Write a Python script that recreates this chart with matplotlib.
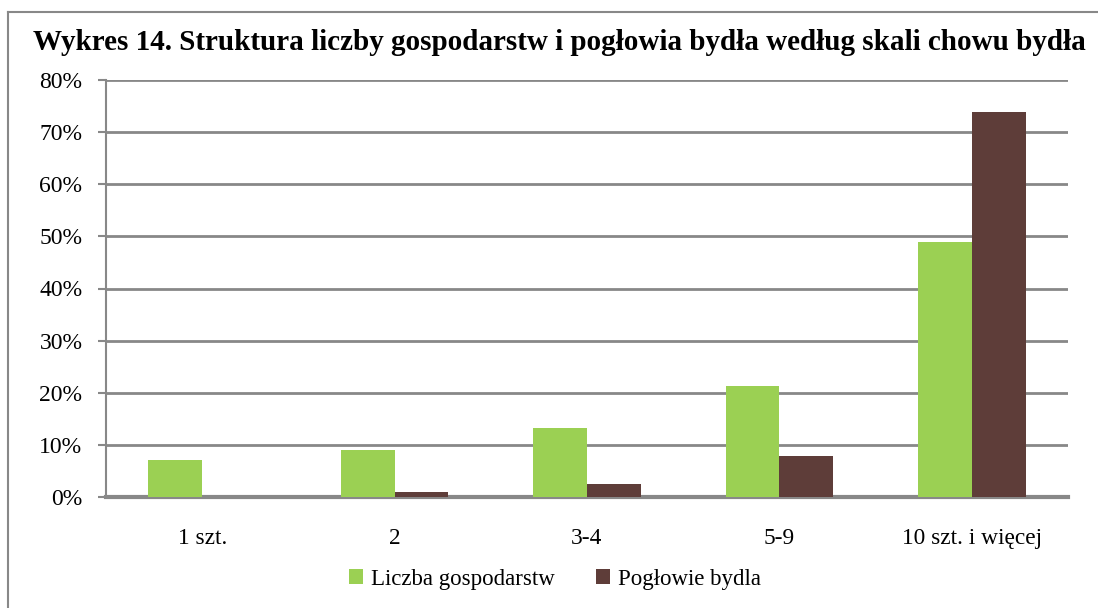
import matplotlib.pyplot as plt
from matplotlib.lines import Line2D
from matplotlib.ticker import PercentFormatter
import numpy as np

categories = ['1 szt.', '2', '3-4', '5-9', '10 szt. i więcej']
gospodarstwa = [7.1, 9.0, 13.2, 21.3, 48.9]
poglowie = [0.0, 0.9, 2.5, 7.9, 73.9]
series_names = ['Liczba gospodarstw', 'Pogłowie bydla']
title = 'Wykres 14. Struktura liczby gospodarstw i pogłowia bydła według skali chowu bydła'

green = '#9BD053'
brown = '#5E3D39'
grid_col = '#888888'

plt.rcParams['font.family'] = ['Liberation Serif', 'DejaVu Serif']

fig = plt.figure(figsize=(10.98, 6.08), dpi=100)
ax = fig.add_axes([106 / 1098, 1 - 497 / 608, 962 / 1098, 417 / 608])

x = np.arange(len(categories))
w = 0.28
ax.bar(x - w / 2, gospodarstwa, w, color=green, label=series_names[0], zorder=3)
ax.bar(x + w / 2, poglowie, w, color=brown, label=series_names[1], zorder=3)

ax.set_xlim(-0.5, len(categories) - 0.5)
ax.set_ylim(0, 80)
ax.set_yticks(np.arange(0, 81, 10))
ax.yaxis.set_major_formatter(PercentFormatter(decimals=0))
ax.yaxis.grid(True, color=grid_col, linewidth=2, zorder=0)
ax.set_xticks(x)
ax.set_xticklabels(categories)
ax.tick_params(axis='x', length=0, pad=22, labelsize=16.8)
ax.tick_params(axis='y', length=6, width=1.5, color=grid_col, pad=11, labelsize=17)

for s in ['top', 'right']:
    ax.spines[s].set_visible(False)
ax.spines['left'].set_color(grid_col)
ax.spines['left'].set_linewidth(1.5)
ax.spines['bottom'].set_color(grid_col)
ax.spines['bottom'].set_linewidth(3)

fig.legend(loc='center', bbox_to_anchor=(555 / 1098, 1 - 579 / 608), ncol=2,
           frameon=False, fontsize=16.5, handlelength=0.6, handleheight=0.6,
           handletextpad=0.35, columnspacing=1.8)

fig.text(33 / 1098, 1 - 42 / 608, title, fontsize=21, fontweight='bold',
         ha='left', va='center')

# ramka wykresu (lewa i gorna krawedz)
fig.add_artist(Line2D([8 / 1098, 8 / 1098], [0, 1 - 12 / 608], color=grid_col,
                      linewidth=1.5, transform=fig.transFigure))
fig.add_artist(Line2D([8 / 1098, 1], [1 - 12 / 608, 1 - 12 / 608], color=grid_col,
                      linewidth=1.5, transform=fig.transFigure))

fig.savefig('out.png', dpi=100)
